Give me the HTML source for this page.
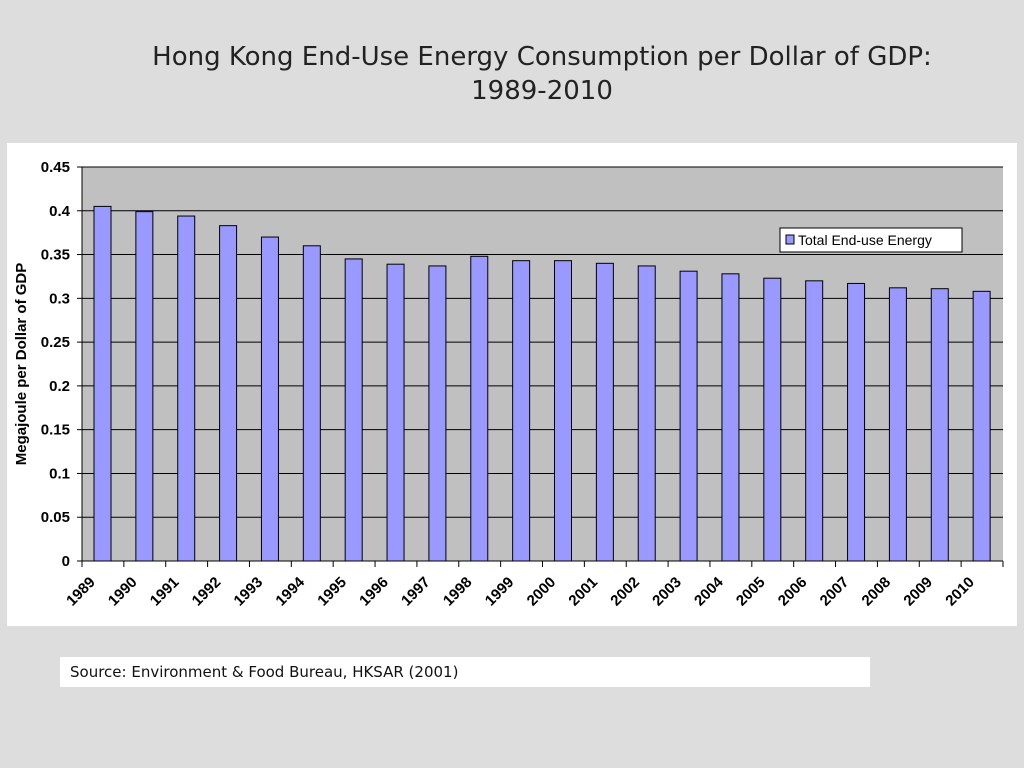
<!DOCTYPE html>
<html><head><meta charset="utf-8"><style>
html,body{margin:0;padding:0;width:1024px;height:768px;background:#dddddd;overflow:hidden}
.title{position:absolute;left:0;top:40px;width:1084px;text-align:center;font-family:"DejaVu Sans","Liberation Sans",sans-serif;font-size:26px;line-height:34px;color:#222}
.src{position:absolute;left:60px;top:657px;width:810px;height:30px;background:#fff;font-family:"DejaVu Sans","Liberation Sans",sans-serif;font-size:15px;line-height:30px;padding-left:10px;box-sizing:border-box;color:#111}
svg{position:absolute;left:0;top:0}
</style></head><body>
<div class="title">Hong Kong End-Use Energy Consumption per Dollar of GDP:<br>1989-2010</div>
<svg width="1024" height="768" id="chart">
<rect x="7" y="143" width="1010" height="483" fill="#fff"/>
</svg>
<div class="src">Source: Environment &amp; Food Bureau, HKSAR (2001)</div>
<script>
const years=["1989","1990","1991","1992","1993","1994","1995","1996","1997","1998","1999","2000","2001","2002","2003","2004","2005","2006","2007","2008","2009","2010"];
const values=[0.405,0.399,0.394,0.383,0.370,0.360,0.345,0.339,0.337,0.348,0.343,0.343,0.340,0.337,0.331,0.328,0.323,0.320,0.317,0.312,0.311,0.308];
const yTicks=[0,0.05,0.1,0.15,0.2,0.25,0.3,0.35,0.4,0.45];
const yTickLabels=["0","0.05","0.1","0.15","0.2","0.25","0.3","0.35","0.4","0.45"];
const NS="http://www.w3.org/2000/svg";
const svg=document.getElementById('chart');
const L=82,R=1003,T=167,B=561,yMax=0.45;
const y=v=>B-(v/yMax)*(B-T);
const bw=(R-L)/years.length;
const x=i=>L+i*bw;
function mk(t,a,p){const e=document.createElementNS(NS,t);for(const k in a)e.setAttribute(k,a[k]);(p||svg).appendChild(e);return e;}
const plot=mk('rect',{x:L,y:T,width:R-L,height:B-T,fill:'#c0c0c0'});


yTicks.forEach((v,i)=>{
  const g=mk('line',{x1:L,x2:R,y1:y(v),y2:y(v),stroke:'#000','stroke-width':1});
  
  
  mk('line',{x1:L-5,x2:L,y1:y(v),y2:y(v),stroke:'#000'});
  const t=mk('text',{x:L-12,y:y(v)+5,'text-anchor':'end','font-family':'Liberation Sans, sans-serif','font-size':15,'font-weight':'bold'});
  t.textContent=yTickLabels[i];
  
  
});
mk('line',{x1:L,x2:L,y1:T,y2:B,stroke:'#000'});
values.forEach((v,i)=>{
  const b=mk('rect',{x:x(i)+12,y:y(v),width:17,height:B-y(v),fill:'#9999ff',stroke:'#000','stroke-width':1});
  
  
});
for(let i=0;i<=years.length;i++){mk('line',{x1:x(i),x2:x(i),y1:B,y2:B+6,stroke:'#000'});}
mk('line',{x1:L,x2:R,y1:B,y2:B,stroke:'#000'});
years.forEach((yr,i)=>{
  const cx=x(i)+bw/2-7, cy=B+22;
  const t=mk('text',{x:cx,y:cy,'text-anchor':'end','font-family':'Liberation Sans, sans-serif','font-size':15,'font-weight':'bold',transform:`rotate(-45 ${cx} ${cy})`});
  t.textContent=yr;
  
  
});
const yt=mk('text',{x:26,y:364,'text-anchor':'middle','font-family':'Liberation Sans, sans-serif','font-size':15,'font-weight':'bold',transform:'rotate(-90 26 364)'});
yt.textContent='Megajoule per Dollar of GDP';


const lg=mk('g',{});


mk('rect',{x:780,y:228,width:182,height:24,fill:'#fff',stroke:'#000'},lg);
const sw=mk('rect',{x:786,y:235,width:8,height:9,fill:'#9999ff',stroke:'#000'},lg);


const lt=mk('text',{x:798,y:245,'font-family':'Liberation Sans, sans-serif','font-size':14},lg);
lt.textContent='Total End-use Energy';


</script>
</body></html>
